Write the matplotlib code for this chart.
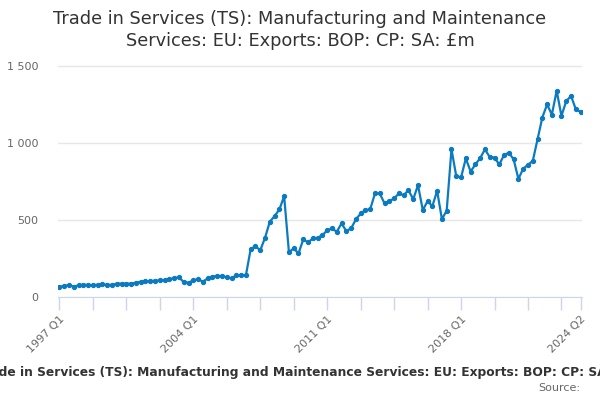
import numpy as np
import matplotlib.pyplot as plt

# quarterly values, 1997 Q1 .. 2024 Q2 (GBP million)
values = [
    67, 72, 78, 67, 76, 78, 80, 76, 80, 82,
    80, 78, 87, 87, 87, 87, 93, 99, 102, 104,
    106, 108, 108, 115, 123, 128, 97, 93, 108, 117,
    99, 121, 132, 138, 136, 128, 121, 141, 141, 141,
    311, 331, 303, 385, 489, 526, 569, 655,
    292, 316, 283, 374, 355, 381, 385, 402, 433, 446,
    424, 478, 429, 446, 504, 543, 565, 571, 673, 673,
    608, 623, 641, 673, 662, 694, 636, 727, 565, 623,
    591, 690, 506, 562,
    960, 786, 777, 901, 816, 862, 903, 960, 910, 906,
    862, 923, 938, 895, 768, 834, 860, 884, 1025, 1167,
    1252, 1186, 1341, 1178, 1273, 1308, 1221, 1204,
]
start_year = 1997
labels = [f"{start_year + k // 4} Q{k % 4 + 1}" for k in range(len(values))]
shown_labels = ["1997 Q1", "2004 Q1", "2011 Q1", "2018 Q1", "2024 Q2"]
y_ticks = [0, 500, 1000, 1500]
y_labels = ["0", "500", "1 000", "1 500"]

title = "Trade in Services (TS): Manufacturing and Maintenance Services: EU: Exports: BOP: CP: SA: £m"

fig = plt.figure(figsize=(6, 4), dpi=100)
ax = fig.add_axes([58 / 600, 103 / 400, 524 / 600, 243 / 400])

x = np.arange(len(values))
ax.plot(x, values, color="#0b7bc1", lw=1.6, marker="o", ms=2.8, zorder=3)

ax.set_xlim(-0.3, len(values) - 0.7)
ax.set_ylim(0, 1580)
ax.set_yticks(y_ticks)
ax.set_yticklabels(y_labels)
ax.grid(axis="y", color="#e6e6e6", lw=1)
ax.set_axisbelow(True)

tick_pos = list(range(0, len(values), 7))
if tick_pos[-1] != len(values) - 1:
    tick_pos.append(len(values) - 1)
ax.set_xticks(tick_pos)
ax.set_xticklabels([labels[p] if labels[p] in shown_labels else "" for p in tick_pos],
                   rotation=45, ha="right", rotation_mode="anchor")

for s in ["top", "right", "left"]:
    ax.spines[s].set_visible(False)
ax.spines["bottom"].set_color("#ccd6eb")
ax.tick_params(axis="x", colors="#ccd6eb", length=9, width=1, labelcolor="#666666",
               labelsize=8)
ax.tick_params(axis="y", length=0, labelcolor="#666666", labelsize=8, pad=14)

fig.text(0.5, 0.975, "Trade in Services (TS): Manufacturing and Maintenance\nServices: EU: Exports: BOP: CP: SA: £m",
         ha="center", va="top", fontsize=12.8, color="#333333", linespacing=1.25)
# caption is wider than the figure, cut at both edges as in the original
fig.text(0.512, 0.068, title, ha="center", va="center", fontsize=8.8,
         fontweight="bold", color="#333333")
fig.text(0.967, 0.03, "Source:", ha="right", va="center", fontsize=8, color="#666666")

fig.savefig("out.png", dpi=100)
